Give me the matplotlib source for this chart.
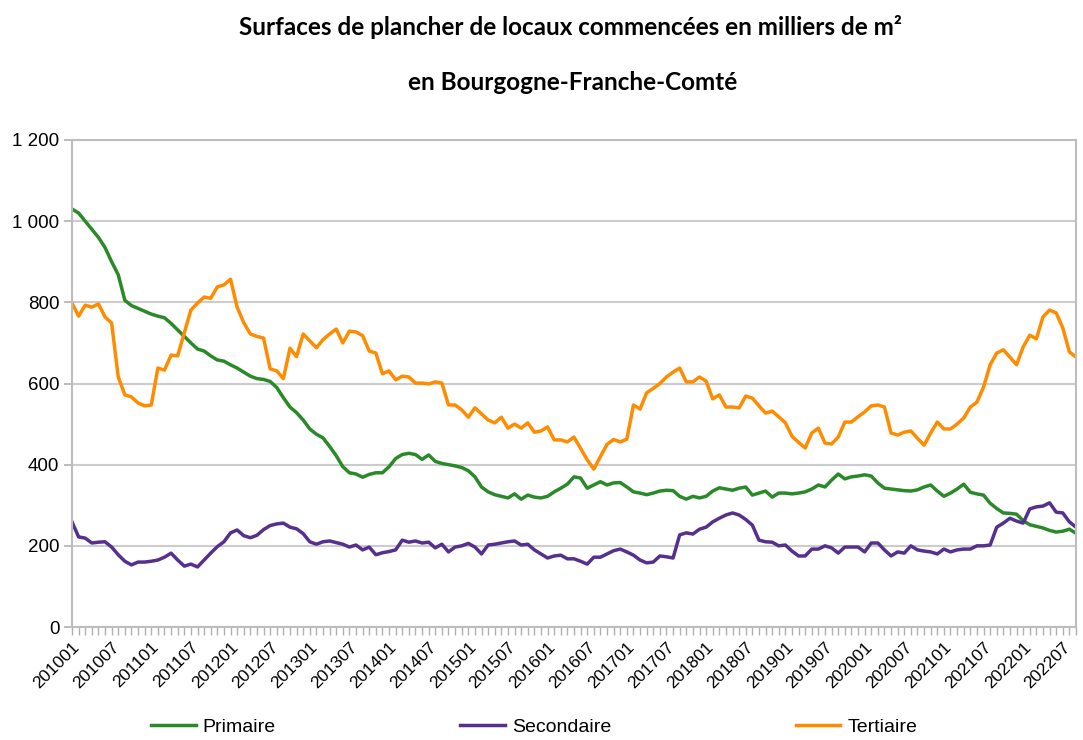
import matplotlib
matplotlib.use("Agg")
import matplotlib.pyplot as plt
import numpy as np

# months 201001 .. 202209
months = [f"{y}{m:02d}" for y in range(2010, 2023) for m in range(1, 13)][:153]

primaire = [
    1030, 1020, 1000, 980, 960, 935, 900, 868, 805, 792,
    785, 778, 771, 766, 762, 748, 732, 716, 700, 685,
    680, 668, 658, 655, 646, 638, 628, 618, 612, 610,
    605, 590, 565, 542, 528, 510, 488, 475, 466, 445,
    422, 395, 380, 377, 369, 376, 380, 380, 395, 415,
    425, 428, 425, 413, 424, 408, 403, 400, 397, 393,
    385, 370, 345, 333, 326, 322, 318, 328, 315, 325,
    320, 318, 322, 333, 342, 352, 370, 367, 342, 350,
    358, 350, 355, 356, 345, 333, 330, 326, 330, 335,
    337, 336, 322, 315, 322, 318, 322, 335, 343, 340,
    337, 342, 345, 325, 330, 335, 320, 330, 330, 328,
    330, 333, 340, 350, 345, 362, 377, 365, 370, 372,
    375, 372, 355, 342, 340, 338, 336, 335, 338, 345,
    350, 335, 322, 330, 340, 352, 332, 328, 325, 305,
    292, 281, 280, 278, 262, 252, 248, 244, 238, 234,
    236, 241, 231,
]

secondaire = [
    259, 222, 219, 207, 209, 210, 197, 178, 162, 153,
    160, 160, 162, 165, 172, 182, 165, 150, 155, 148,
    165, 182, 198, 210, 232, 239, 225, 220, 226, 240,
    250, 254, 256, 246, 242, 230, 210, 204, 210, 212,
    208, 204, 197, 202, 190, 197, 178, 183, 186, 190,
    214, 209, 212, 207, 209, 195, 204, 185, 197, 200,
    206, 197, 180, 202, 204, 207, 210, 212, 202, 204,
    190, 180, 170, 175, 177, 168, 168, 162, 155, 172,
    172, 180, 188, 192, 185, 177, 165, 158, 160, 175,
    173, 170, 227, 232, 229, 241, 246, 259, 268, 276,
    281, 276, 265, 251, 214, 210, 209, 200, 202, 187,
    175, 175, 192, 192, 200, 195, 182, 197, 197, 197,
    185, 207, 207, 190, 175, 185, 182, 200, 190, 187,
    185, 180, 192, 185, 190, 192, 192, 200, 200, 202,
    246, 256, 268, 261, 256, 291, 296, 298, 306, 283,
    281, 259, 246,
]

tertiaire = [
    798, 766, 793, 788, 796, 764, 749, 616, 572, 567,
    552, 545, 547, 638, 633, 670, 668, 725, 781, 798,
    813, 810, 838, 843, 857, 788, 750, 722, 716, 712,
    636, 631, 612, 687, 666, 722, 705, 688, 708, 722,
    734, 700, 729, 727, 718, 680, 675, 624, 631, 609,
    618, 616, 601, 601, 599, 604, 601, 547, 547, 535,
    517, 540, 525, 510, 503, 517, 490, 500, 490, 503,
    480, 483, 493, 461, 461, 456, 468, 440, 412, 389,
    420, 450, 462, 456, 463, 547, 537, 577, 588, 600,
    616, 628, 638, 604, 604, 616, 606, 562, 572, 542,
    542, 540, 569, 564, 545, 527, 532, 518, 503, 470,
    455, 441, 478, 490, 453, 451, 468, 505, 505, 518,
    530, 545, 547, 542, 478, 473, 480, 483, 465, 448,
    478, 505, 488, 488, 500, 515, 542, 554, 591, 646,
    675, 683, 665, 646, 690, 719, 710, 764, 781, 774,
    737, 678, 665,
]

series = [
    ("Primaire", primaire, "#2a8a2a"),
    ("Secondaire", secondaire, "#55308d"),
    ("Tertiaire", tertiaire, "#ff8c00"),
]

plt.rcParams["font.family"] = ["Liberation Sans", "DejaVu Sans"]

fig = plt.figure(figsize=(10.83, 7.40), dpi=100)
ax = fig.add_axes([72 / 1083, 1 - 627 / 740, (1076 - 72) / 1083, (627 - 140) / 740])

x = np.arange(len(months))
for name, vals, color in series:
    ax.plot(x, vals, color=color, linewidth=2.5, label=name, solid_joinstyle="round")

ax.set_xlim(0, len(months) - 1)
ax.set_ylim(0, 1200)
ax.set_yticks(range(0, 1201, 200))
ax.set_yticklabels(["0", "200", "400", "600", "800", "1 000", "1 200"], fontsize=13.5)
ax.yaxis.grid(True, color="#cccccc", linewidth=1.5)
ax.set_axisbelow(True)

ax.set_xticks(x[::6])
ax.set_xticklabels(months[::6], rotation=45, ha="right", va="top",
                   rotation_mode="anchor", fontsize=12.5)
ax.set_xticks(x, minor=True)
ax.tick_params(axis="x", which="both", length=6, color="#b0b0b0", width=1, pad=3)
ax.tick_params(axis="y", length=6, color="#b0b0b0", width=1.2, pad=3)

for side in ["left", "bottom", "right", "top"]:
    ax.spines[side].set_color("#bdbdbd")
    ax.spines[side].set_linewidth(1.5)

fig.text(0.527, 1 - 27 / 740, "Surfaces de plancher de locaux commencées en milliers de m²",
         ha="center", va="center", fontsize=17.5, fontweight="bold", family="Lato")
fig.text(0.529, 1 - 83 / 740, "en Bourgogne-Franche-Comté",
         ha="center", va="center", fontsize=17.5, fontweight="bold", family="Lato")

fig.legend(loc="center", bbox_to_anchor=(0.493, 1 - 727 / 740), ncol=3, frameon=False,
           fontsize=14, handlelength=2.3, columnspacing=9.5, handletextpad=0.35)

fig.savefig("out.png", dpi=100)
